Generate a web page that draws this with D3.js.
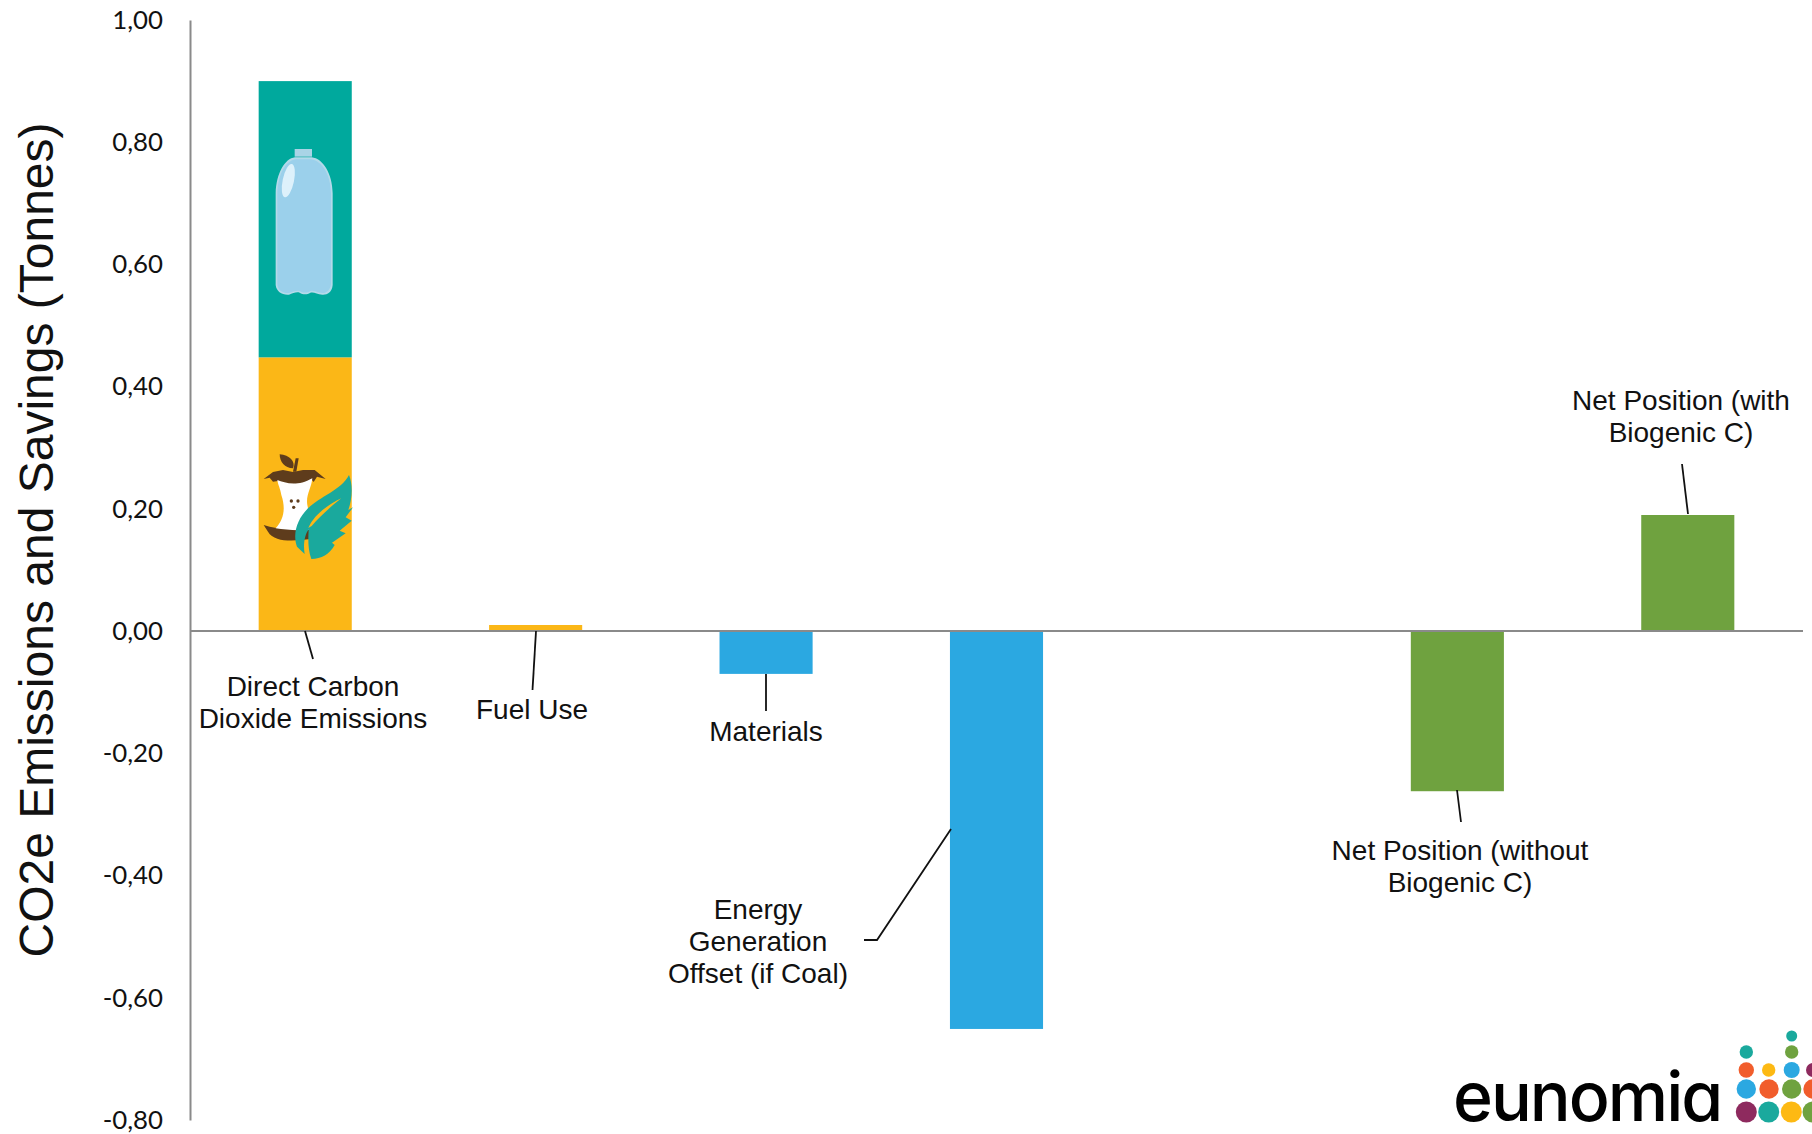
<!DOCTYPE html>
<html>
<head>
<meta charset="utf-8">
<script src="https://cdn.jsdelivr.net/npm/d3@7/dist/d3.min.js"></script>
<style>
html,body{margin:0;padding:0;background:#fff;}
svg{display:block;}
.tick-label{font-family:Lato,"Open Sans",sans-serif;font-size:25.8px;fill:#111;}
.note{font-family:"Liberation Sans",Arial,sans-serif;font-size:28px;fill:#111;text-anchor:middle;}
</style>
</head>
<body>
<svg id="chart" width="1812" height="1134"></svg>
<script>
// Chart content
const categories = ["Direct Carbon Dioxide Emissions","Fuel Use","Materials","Energy Generation Offset (if Coal)","","Net Position (without Biogenic C)","Net Position (with Biogenic C)"];
const biogenicValues = [0.448,0,0,0,0,0,0];
const fossilValues = [0.452,0.01,-0.07,-0.651,0,-0.262,0.19];
const barColors = ["#00A99D","#FBB717","#2BA8E1","#2BA8E1",null,"#6FA23F","#6FA23F"];
const tickValues = [1,0.8,0.6,0.4,0.2,0,-0.2,-0.4,-0.6,-0.8];
const yTitle = "CO2e Emissions and Savings (Tonnes)";
const noteLines = [["Direct Carbon","Dioxide Emissions"],["Fuel Use"],["Materials"],["Energy","Generation","Offset (if Coal)"],[],["Net Position (without","Biogenic C)"],["Net Position (with","Biogenic C)"]];

const svg = d3.select("#chart");
const y = d3.scaleLinear().domain([-0.8,1]).range([1120,20]);
const x = d3.scaleBand().domain(categories).range([190,1803]).paddingInner(0.596).paddingOuter(0.298);

// Bars: the first category stacks the yellow biogenic part under the teal fossil part
const rows = categories.map((c,i)=>({c,i,bio:biogenicValues[i],val:fossilValues[i]})).filter(d=>d.c);
const bars = svg.append("g");
rows.forEach(d=>{
  if(d.bio>0){
    bars.append("rect").attr("x",x(d.c)).attr("width",x.bandwidth())
      .attr("y",y(d.bio)).attr("height",y(0)-y(d.bio)).attr("fill","#FBB717");
    bars.append("rect").attr("x",x(d.c)).attr("width",x.bandwidth())
      .attr("y",y(d.bio+d.val)).attr("height",y(d.bio)-y(d.bio+d.val)).attr("fill",barColors[d.i]);
  } else {
    bars.append("rect").attr("x",x(d.c)).attr("width",x.bandwidth())
      .attr("y",y(Math.max(0,d.val))).attr("height",Math.abs(y(d.val)-y(0))).attr("fill",barColors[d.i]);
  }
});

// Axes
const axisG = svg.append("g").attr("transform","translate(190,0)")
  .call(d3.axisLeft(y).tickValues(tickValues).tickSize(0).tickPadding(27)
    .tickFormat(v=>d3.format(".2f")(v).replace(".",",").replace("−","-")));
axisG.select(".domain").attr("stroke","#8a8a8a").attr("stroke-width",2);
axisG.selectAll("text").attr("class","tick-label").attr("text-anchor","end").attr("dy","0.32em");
svg.append("line").attr("x1",190).attr("x2",1803).attr("y1",y(0)).attr("y2",y(0))
  .attr("stroke","#8a8a8a").attr("stroke-width",2);

svg.append("text").attr("transform",`translate(53,540) rotate(-90)`)
  .attr("text-anchor","middle")
  .style("font-family",'"Liberation Sans",Arial,sans-serif').style("font-size","48px").style("fill","#111")
  .text(yTitle);

// Data callouts: text centre and first baseline, with the leader polyline
const notes = [
  {i:0,cx:313,by:696,leader:[[305,631],[313,659]]},
  {i:1,cx:532,by:719,leader:[[536,631],[532.5,690]]},
  {i:2,cx:766,by:741,leader:[[766,674],[766,711]]},
  {i:3,cx:758,by:919,leader:[[951,829],[877,940],[864,940]]},
  {i:5,cx:1460,by:860,leader:[[1457,790],[1461,822]]},
  {i:6,cx:1681,by:410,leader:[[1688,514],[1682,464]]}
];
notes.forEach(n=>{
  svg.append("path").attr("d",d3.line()(n.leader)).attr("fill","none").attr("stroke","#111").attr("stroke-width",1.8);
  const t = svg.append("text").attr("class","note");
  noteLines[n.i].forEach((line,k)=>t.append("tspan").attr("x",n.cx).attr("y",n.by+k*32).text(line));
});

// Bottle icon on the teal segment
const barLeft = x(categories[0]);
const bottle = svg.append("g").attr("transform",`translate(${barLeft-19},130) scale(${1/3})`);
bottle.append("path").attr("fill","#A9D4E6")
  .attr("d","M165,57 L217,57 L217,80 L165,80 Z");
bottle.append("path").attr("fill","#B4DAEA")
  .attr("d","M166,82 L216,82 C250,86 278,130 279,190 L279,465 C277,488 262,495 248,494 C232,492 222,485 212,488 C202,494 190,494 180,488 C170,485 160,490 148,494 C128,496 110,485 108,465 L108,190 C110,130 135,86 166,82 Z");
bottle.append("path").attr("fill","#9BD0EB")
  .attr("d","M168,88 L214,88 C246,92 273,132 274,190 L274,462 C272,482 258,490 248,489 C232,487 222,480 212,483 C202,489 190,489 180,483 C170,480 160,485 148,489 C130,490 114,482 113,462 L113,190 C115,132 138,92 168,88 Z");
bottle.append("ellipse").attr("cx",146).attr("cy",152).attr("rx",17).attr("ry",51)
  .attr("transform","rotate(12 146 152)").attr("fill","#DDF1FB");

// Apple core and leaf icon on the yellow segment
const apple = svg.append("g").attr("transform",`translate(${barLeft-19},430) scale(${1/3})`);
apple.append("path").attr("fill","#5E3C1C")
  .attr("d","M72,147 L100,126 L130,120 L160,126 L190,120 L225,120 L258,147 L232,140 L222,156 L215,148 L200,163 L180,168 L150,168 L130,158 L115,153 L100,155 L90,143 Z");
apple.append("path").attr("fill","#5E3C1C")
  .attr("d","M72,285 L90,290 L110,294 L215,298 L212,327 C170,332 105,340 85,305 Z");
apple.append("path").attr("fill","#fff")
  .attr("d","M113,150 C135,158 170,172 218,145 C215,175 198,195 203,225 L218,298 C180,303 140,300 108,295 C130,270 140,240 125,195 C122,175 115,165 113,150Z");
apple.append("path").attr("fill","#5E3C1C").attr("d","M160,125 L168,85 L177,85 L170,125Z");
apple.append("path").attr("fill","#5E3C1C").attr("d","M120,73 C150,75 168,95 160,115 C135,115 120,95 120,73Z");
[[155,213],[175,213],[162,232]].forEach(s=>apple.append("circle").attr("cx",s[0]).attr("cy",s[1]).attr("r",5).attr("fill","#5E3C1C"));
apple.append("path").attr("fill","#1AA99D")
  .attr("d","M328,135 C305,180 240,200 205,235 C172,268 158,312 172,350 L195,372 C190,345 195,315 207,298 C205,330 205,360 215,387 C245,387 270,372 285,345 L277,338 L318,310 L300,302 L336,272 L318,262 L340,232 L326,240 C338,205 340,165 328,135Z");
apple.append("path").attr("fill","#FBB717")
  .attr("d","M305,205 C270,222 225,250 206,294 L216,288 C240,260 275,228 305,205Z");

// Company wordmark and dot cluster
svg.append("text").attr("x",1453).attr("y",1121)
  .style("font-family",'Inter,"Open Sans",sans-serif').style("font-size","68px").style("font-weight",500)
  .style("font-feature-settings",'"cv11"').style("letter-spacing","-2px").style("fill","#000").text("eunomia");
const logoDots = [
  [1746.3,1112,10.5,"#8E2A5E"],[1768.7,1112,10.5,"#1AA99D"],[1791.3,1112,10.5,"#FDB913"],[1813,1112,10.5,"#6FA23F"],
  [1746.3,1089,9.7,"#2BA8E1"],[1769,1089,9.7,"#F15D2C"],[1791.7,1089,9.7,"#6FA23F"],[1813,1089,9.7,"#F15D2C"],
  [1746.3,1070,7.7,"#F15D2C"],[1768.7,1070,6.7,"#FDB913"],[1791.7,1070,8,"#2BA8E1"],[1813,1070,7,"#8E2A5E"],
  [1746.3,1052,6.7,"#1AA99D"],[1791.7,1052,6.7,"#6FA23F"],
  [1791.7,1036,5.5,"#1AA99D"]
];
svg.append("g").selectAll("circle").data(logoDots).join("circle")
  .attr("cx",d=>d[0]).attr("cy",d=>d[1]).attr("r",d=>d[2]).attr("fill",d=>d[3]);
</script>
</body>
</html>
